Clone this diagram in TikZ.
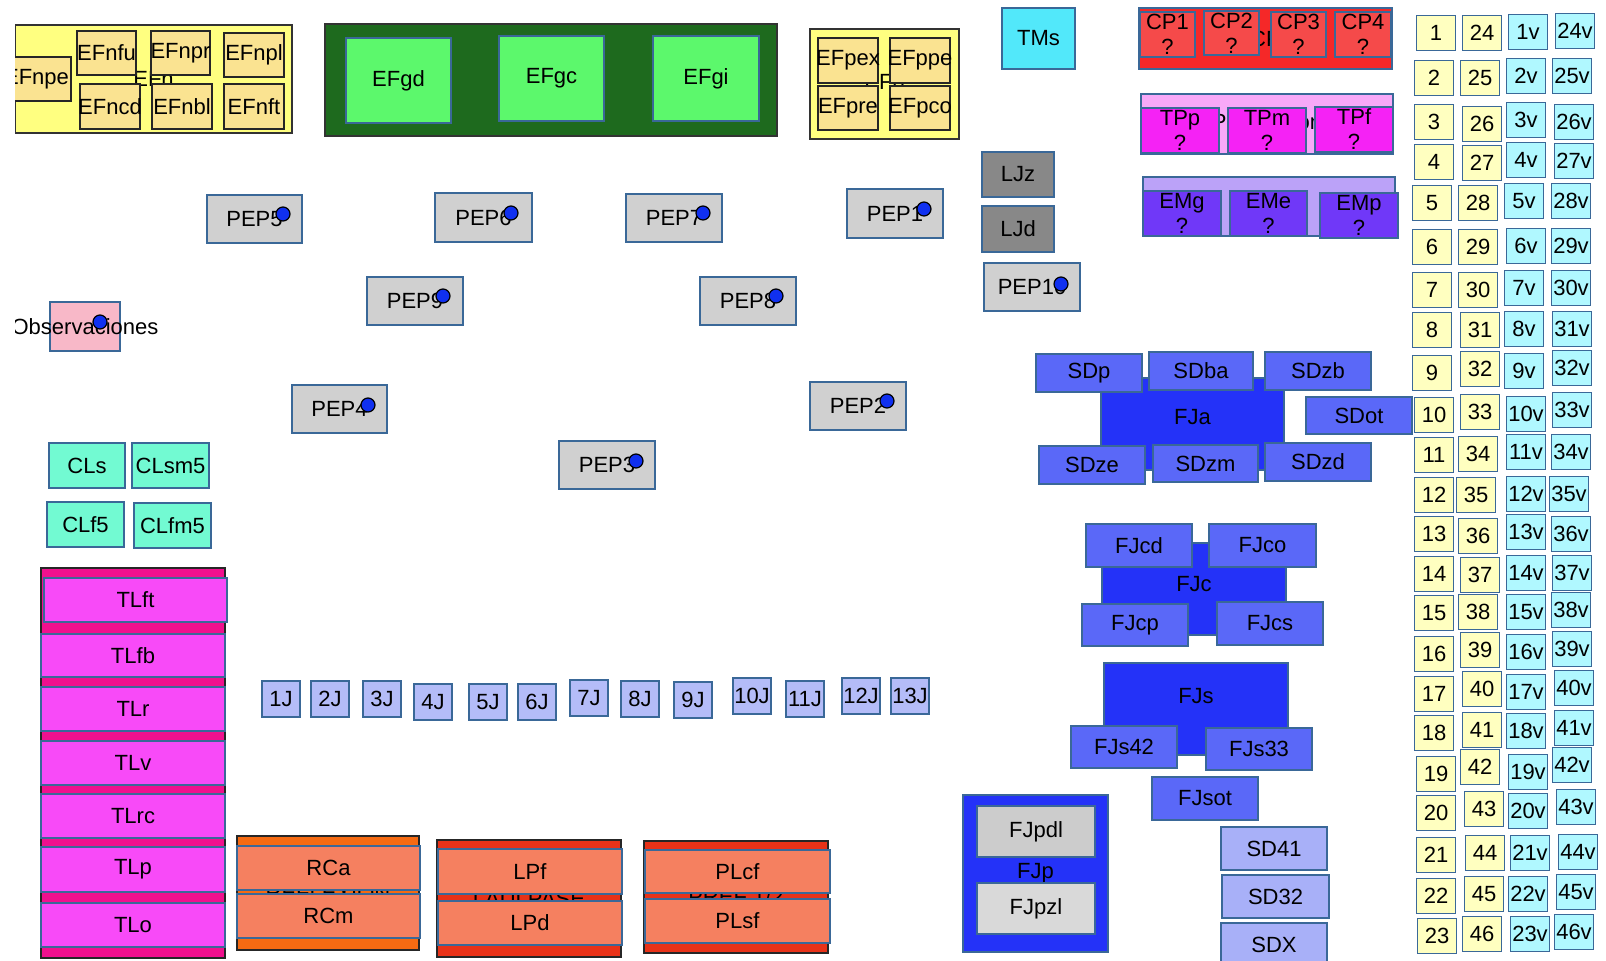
\documentclass[tikz,border=0pt]{standalone}
\usepackage{fontspec}
\setmainfont{Liberation Sans}
\usepackage{tikz}
\usetikzlibrary{fit}

\definecolor{bord}{HTML}{3A6898}
\definecolor{efyel}{HTML}{FFFF80}
\definecolor{efsand}{HTML}{FAE391}
\definecolor{gdark}{HTML}{1E6A1E}
\definecolor{glight}{HTML}{5CF86C}
\definecolor{tmscyan}{HTML}{52E8FA}
\definecolor{cpdark}{HTML}{F52828}
\definecolor{cplight}{HTML}{F54A4A}
\definecolor{tplight}{HTML}{F8A8F8}
\definecolor{tpmag}{HTML}{F522F5}
\definecolor{emlight}{HTML}{BBA2F8}
\definecolor{emviolet}{HTML}{7038F8}
\definecolor{ljgrey}{HTML}{888888}
\definecolor{pepgrey}{HTML}{D0D0D0}
\definecolor{obspink}{HTML}{F8B8C8}
\definecolor{claqua}{HTML}{72FAD2}
\definecolor{tldeep}{HTML}{F0108E}
\definecolor{tlmag}{HTML}{F84AF8}
\definecolor{rcorange}{HTML}{F56A12}
\definecolor{lpred}{HTML}{E83218}
\definecolor{salmon}{HTML}{F58060}
\definecolor{jlav}{HTML}{B4BCF8}
\definecolor{sdblue}{HTML}{5A68F8}
\definecolor{fjblue}{HTML}{2432F8}
\definecolor{sdpale}{HTML}{A8B0F8}
\definecolor{numyel}{HTML}{FFFFC0}
\definecolor{numcyan}{HTML}{B0F8FF}
\definecolor{dotblue}{HTML}{1030F0}

\tikzset{
  cell/.style={draw=bord, line width=0.9pt, inner sep=0pt},
  lbl/.style={inner sep=0pt, align=center, font=\fontsize{11}{12.5}\selectfont},
  efbox/.style={fill=efyel, draw=black!80},
  efsub/.style={fill=efsand, draw=black!85},
  greenbox/.style={fill=gdark, draw=black!80},
  greensub/.style={fill=glight},
  tmsbox/.style={fill=tmscyan},
  cpbox/.style={fill=cpdark},
  cpsub/.style={fill=cplight},
  tpbox/.style={fill=tplight},
  tpsub/.style={fill=tpmag},
  embox/.style={fill=emlight},
  emsub/.style={fill=emviolet},
  ljbox/.style={fill=ljgrey},
  pepbox/.style={fill=pepgrey},
  obsbox/.style={fill=obspink},
  clbox/.style={fill=claqua},
  tlbox/.style={fill=tldeep, draw=black!85},
  tlsub/.style={fill=tlmag},
  rcbox/.style={fill=rcorange, draw=black!85},
  lpbox/.style={fill=lpred, draw=black!85},
  redsub/.style={fill=salmon},
  jbox/.style={fill=jlav},
  sdbox/.style={fill=sdblue},
  fjbox/.style={fill=fjblue},
  sdlight/.style={fill=sdpale},
  greysub/.style={fill=black!20},
  greysub2/.style={fill=black!15},
  numy/.style={fill=numyel},
  numc/.style={fill=numcyan},
  dot/.style={circle, draw=black, fill=dotblue, line width=0.6pt, minimum size=7pt, inner sep=0pt}
}

% box from corner to corner, label on top
\newcommand{\blok}[8][]{%
  \node[cell,#2,fit={(#4,#5) (#6,#7)}] (#3) {};
  \node[lbl,#1] (#3-l) at (#3.center) {#8};}

\begin{document}
\begin{tikzpicture}[x=0.5pt,y=-0.5pt]
\useasboundingbox (0,0) rectangle (1606,961);
\clip (15,0) rectangle (1606,961);

% EFn
\blok{efbox}{EFn}{15}{25}{292}{133}{EFn}
\blok{efsub}{EFnpe}{2}{57}{71}{101}{EFnpe}
\blok{efsub}{EFnfu}{77}{31}{136}{75}{EFnfu}
\blok{efsub}{EFnpr}{151}{31}{210}{75}{EFnpr}
\blok{efsub}{EFnpl}{224}{33}{284}{77}{EFnpl}
\blok{efsub}{EFncd}{80}{84}{140}{129}{EFncd}
\blok{efsub}{EFnbl}{152}{84}{212}{129}{EFnbl}
\blok{efsub}{EFnft}{224}{84}{284}{129}{EFnft}

% EFg
\blok{greenbox}{EFg}{325}{24}{777}{136}{}
\blok{greensub}{EFgd}{346}{38}{451}{123}{EFgd}
\blok{greensub}{EFgc}{499}{36}{604}{121}{EFgc}
\blok{greensub}{EFgi}{653}{36}{759}{121}{EFgi}

% EFp
\blok{efbox}{EFp}{810}{29}{959}{139}{EFp}
\blok{efsub}{EFpex}{818}{38}{878}{83}{EFpex}
\blok{efsub}{EFppe}{890}{38}{950}{83}{EFppe}
\blok{efsub}{EFpre}{818}{86}{878}{130}{EFpre}
\blok{efsub}{EFpco}{890}{86}{950}{130}{EFpco}

\blok{tmsbox}{TMs}{1002}{8}{1075}{69}{TMs}

% CP, TP, EM
\blok{cpbox}{CP}{1139}{8}{1392}{69}{CP}
\blok{cpsub}{CP1}{1140}{12}{1195}{57}{CP1\\?}
\blok{cpsub}{CP2}{1204}{11}{1259}{55}{CP2\\?}
\blok{cpsub}{CP3}{1271}{12}{1326}{57}{CP3\\?}
\blok{cpsub}{CP4}{1335}{12}{1391}{57}{CP4\\?}

\blok{tpbox}{TP}{1141}{94}{1393}{154}{Percepción}
\blok{tpsub}{TPp}{1141}{108}{1219}{153}{TPp\\?}
\blok{tpsub}{TPm}{1228}{108}{1306}{153}{TPm\\?}
\blok{tpsub}{TPf}{1315}{107}{1393}{152}{TPf\\?}

\blok{embox}{EM}{1143}{177}{1395}{236}{Afectivo}
\blok{emsub}{EMg}{1143}{191}{1221}{236}{EMg\\?}
\blok{emsub}{EMe}{1230}{191}{1307}{236}{EMe\\?}
\blok{emsub}{EMp}{1320}{193}{1398}{238}{EMp\\?}

\blok{ljbox}{LJz}{982}{152}{1054}{197}{LJz}
\blok{ljbox}{LJd}{982}{206}{1054}{252}{LJd}

% PEP
\blok{pepbox}{PEP5}{207}{195}{302}{243}{PEP5}
\node[dot] (PEP5-d) at (283,214) {};
\blok{pepbox}{PEP6}{435}{193}{532}{242}{PEP6}
\node[dot] (PEP6-d) at (511,213) {};
\blok{pepbox}{PEP7}{626}{194}{722}{242}{PEP7}
\node[dot] (PEP7-d) at (703,213) {};
\blok{pepbox}{PEP1}{847}{189}{943}{238}{PEP1}
\node[dot] (PEP1-d) at (924,209) {};
\blok{pepbox}{PEP9}{367}{277}{463}{325}{PEP9}
\node[dot] (PEP9-d) at (443,296) {};
\blok{pepbox}{PEP8}{700}{277}{796}{325}{PEP8}
\node[dot] (PEP8-d) at (776,296) {};
\blok{pepbox}{PEP10}{984}{263}{1080}{311}{PEP10}
\node[dot] (PEP10-d) at (1061,284) {};
\blok{pepbox}{PEP4}{292}{385}{387}{433}{PEP4}
\node[dot] (PEP4-d) at (368,405) {};
\blok{pepbox}{PEP2}{810}{382}{906}{430}{PEP2}
\node[dot] (PEP2-d) at (887,401) {};
\blok{pepbox}{PEP3}{559}{441}{655}{489}{PEP3}
\node[dot] (PEP3-d) at (636,461) {};

\blok{obsbox}{Obs}{50}{302}{120}{351}{Observaciones}
\node[dot] (Obs-d) at (100,322) {};

% CL
\blok{clbox}{CLs}{49}{443}{125}{488}{CLs}
\blok{clbox}{CLsm5}{132}{443}{209}{488}{CLsm5}
\blok{clbox}{CLf5}{47}{502}{124}{547}{CLf5}
\blok{clbox}{CLfm5}{134}{503}{211}{548}{CLfm5}

% TL
\blok{tlbox}{TL}{41}{568}{225}{958}{}
\blok{tlsub}{TLft}{44}{578}{227}{622}{TLft}
\blok{tlsub}{TLfb}{41}{634}{225}{677}{TLfb}
\blok{tlsub}{TLr}{41}{687}{225}{731}{TLr}
\blok{tlsub}{TLv}{41}{741}{225}{785}{TLv}
\blok{tlsub}{TLrc}{41}{794}{225}{838}{TLrc}
\blok{tlsub}{TLp}{41}{847}{225}{892}{TLp}
\blok{tlsub}{TLo}{41}{903}{225}{947}{TLo}

% RC, LP, PL
\blok{rcbox}{RC}{237}{836}{419}{950}{REFLEXION}
\blok{redsub}{RCa}{237}{846}{420}{890}{RCa}
\blok{redsub}{RCm}{237}{894}{420}{938}{RCm}
\blok{lpbox}{LP}{437}{840}{621}{957}{LAULPASE}
\blok{redsub}{LPf}{438}{849}{622}{894}{LPf}
\blok{redsub}{LPd}{438}{901}{622}{945}{LPd}
\blok{lpbox}{PL}{644}{841}{828}{953}{PREF 1/2}
\blok{redsub}{PLcf}{645}{850}{830}{893}{PLcf}
\blok{redsub}{PLsf}{645}{899}{830}{943}{PLsf}

% J row
\foreach \n/\x/\y in {1/281/699, 2/330/699, 3/382/699, 4/433/702, 5/488/702,
    6/537/702, 7/589/698, 8/640/699, 9/693/700, 10/752/696, 11/805/699,
    12/861/696, 13/910/696}
  {\blok{jbox}{J\n}{\x-19}{\y-18}{\x+19}{\y+18}{\n J}}

% FJa
\blok[yshift=3.5pt]{fjbox}{FJa}{1101}{378}{1284}{470}{FJa}
\blok{sdbox}{SDp}{1036}{354}{1142}{392}{SDp}
\blok{sdbox}{SDba}{1149}{352}{1253}{390}{SDba}
\blok{sdbox}{SDzb}{1265}{352}{1371}{390}{SDzb}
\blok{sdbox}{SDot}{1306}{397}{1412}{434}{SDot}
\blok{sdbox}{SDze}{1039}{446}{1145}{484}{SDze}
\blok{sdbox}{SDzm}{1153}{445}{1258}{482}{SDzm}
\blok{sdbox}{SDzd}{1265}{443}{1371}{481}{SDzd}

% FJc
\blok[yshift=2.5pt]{fjbox}{FJc}{1102}{543}{1286}{635}{FJc}
\blok{sdbox}{FJcd}{1086}{524}{1192}{567}{FJcd}
\blok{sdbox}{FJco}{1209}{524}{1316}{567}{FJco}
\blok{sdbox}{FJcp}{1082}{604}{1188}{646}{FJcp}
\blok{sdbox}{FJcs}{1217}{602}{1323}{645}{FJcs}

% FJs
\blok[yshift=6.5pt]{fjbox}{FJs}{1104}{663}{1288}{755}{FJs}
\blok{sdbox}{FJs42}{1071}{726}{1177}{768}{FJs42}
\blok{sdbox}{FJs33}{1206}{728}{1312}{770}{FJs33}
\blok{sdbox}{FJsot}{1152}{777}{1258}{820}{FJsot}

% FJp
\blok{fjbox}{FJp}{963}{795}{1108}{952}{FJp}
\blok{greysub}{FJpdl}{977}{806}{1095}{857}{FJpdl}
\blok{greysub2}{FJpzl}{977}{883}{1095}{934}{FJpzl}

\blok{sdlight}{SD41}{1221}{827}{1327}{870}{SD41}
\blok{sdlight}{SD32}{1222}{875}{1329}{918}{SD32}
\blok{sdlight}{SDX}{1221}{923}{1327}{966}{SDX}

% numbers
\foreach \n/\x/\y in {1/1436/33, 2/1434/78, 3/1434/122, 4/1434/162, 5/1432/203,
    6/1432/247, 7/1432/290, 8/1432/330, 9/1432/373, 10/1434/415, 11/1434/455,
    12/1434/495, 13/1434/534, 14/1434/574, 15/1434/613, 16/1434/654, 17/1434/694,
    18/1434/733, 19/1436/774, 20/1436/813, 21/1436/855, 22/1436/896, 23/1437/936,
    24/1482/33, 25/1480/78, 26/1482/124, 27/1482/163, 28/1478/203, 29/1478/247,
    30/1478/290, 31/1480/330, 32/1480/369, 33/1480/412, 34/1478/454, 35/1476/495,
    36/1478/536, 37/1480/575, 38/1478/612, 39/1480/650, 40/1482/689, 41/1482/730,
    42/1480/767, 43/1484/809, 44/1485/853, 45/1484/894, 46/1482/934}
  {\blok{numy}{N\n}{\x-19.5}{\y-17.5}{\x+19.5}{\y+17.5}{\n}}
\foreach \n/\x/\y in {1/1528/32, 2/1526/76, 3/1526/120, 4/1526/160, 5/1524/201,
    6/1526/246, 7/1524/288, 8/1524/329, 9/1524/371, 10/1526/414, 11/1526/452,
    12/1526/494, 13/1526/532, 14/1526/573, 15/1526/612, 16/1526/652, 17/1526/692,
    18/1526/731, 19/1528/772, 20/1528/811, 21/1530/853, 22/1528/894, 23/1530/934,
    24/1575/31, 25/1572/76, 26/1574/122, 27/1574/161, 28/1571/201, 29/1571/246,
    30/1571/288, 31/1572/329, 32/1572/368, 33/1572/410, 34/1571/452, 35/1569/494,
    36/1571/534, 37/1572/573, 38/1571/610, 39/1572/649, 40/1574/688, 41/1574/728,
    42/1572/765, 43/1576/807, 44/1578/852, 45/1576/892, 46/1574/932}
  {\blok{numc}{V\n}{\x-19.5}{\y-17.5}{\x+19.5}{\y+17.5}{\n v}}

\end{tikzpicture}
\end{document}
